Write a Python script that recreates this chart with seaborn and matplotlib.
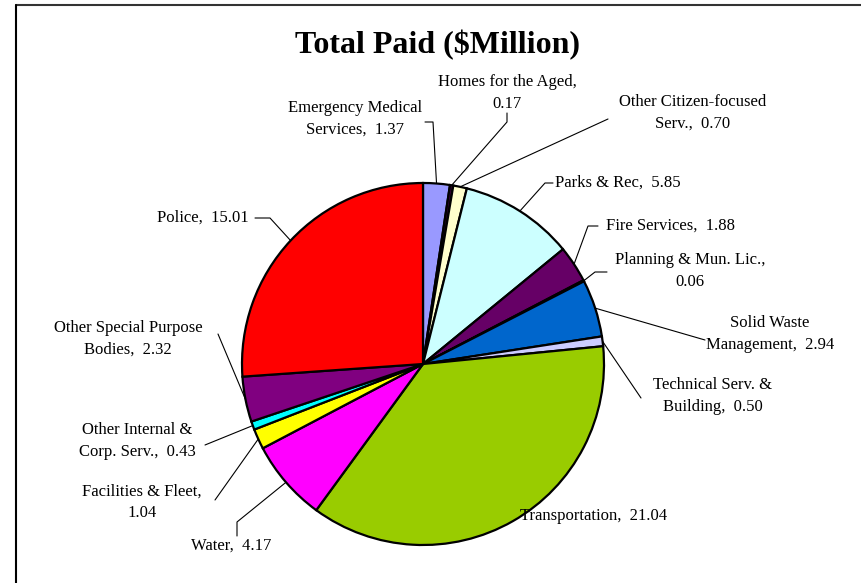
import numpy as np
import matplotlib
matplotlib.use("Agg")
import matplotlib.pyplot as plt
from matplotlib.lines import Line2D
import seaborn as sns

# ---- data ----
names = ["Emergency Medical\nServices", "Homes for the Aged", "Other Citizen-focused\nServ.",
         "Parks & Rec", "Fire Services", "Planning & Mun. Lic.", "Solid Waste\nManagement",
         "Technical Serv. &\nBuilding", "Transportation", "Water", "Facilities & Fleet",
         "Other Internal &\nCorp. Serv.", "Other Special Purpose\nBodies", "Police"]
values = [1.37, 0.17, 0.70, 5.85, 1.88, 0.06, 2.94, 0.50, 21.04, 4.17, 1.04, 0.43, 2.32, 15.01]
value_on_new_line = [False, True, False, False, False, True, False, False, False, False, True,
                     False, False, False]
colors = ["#9999FF", "#330033", "#FFFFCC", "#CCFFFF", "#660066", "#FF8080", "#0066CC",
          "#CCCCFF", "#99CC00", "#FF00FF", "#FFFF00", "#00FFFF", "#800080", "#FF0000"]
title = "Total Paid ($Million)"

# ---- layout (pixel coordinates, y downward) ----
W, H = 862, 583
CX, CY, R = 423, 364, 181
text_pos = [(355, 119), (507, 93), (693, 113), (618, 183), (671, 226), (690, 271),
            (770, 334), (713, 396), (594, 516), (231, 546), (142, 502), (137, 441),
            (128, 339), (203, 218)]
leader_pts = [[(425, 122), (433, 122)], [(507, 113), (507, 122)], [(608, 119)],
              [(553, 183), (545, 183)], [(598, 226), (588, 226)], [(607, 272), (595, 272)],
              [(705, 340)], [(641, 398)], None, [(237, 536), (237, 522)], [(215, 500)],
              [(205, 445)], [(218, 334)], [(255, 218), (270, 218)]]

sns.set_theme(style="white")
plt.rcParams["font.family"] = ["Liberation Serif", "DejaVu Serif"]
plt.rcParams["text.color"] = "black"

fig = plt.figure(figsize=(W / 100, H / 100), dpi=100)
ax = fig.add_axes([0, 0, 1, 1])

def py(y):
    return H - y

wedges, _ = ax.pie(values, colors=colors, startangle=90, counterclock=False,
                   center=(CX, py(CY)), radius=R, frame=True,
                   wedgeprops=dict(edgecolor="black", linewidth=1.6))
ax.set_xlim(0, W)
ax.set_ylim(0, H)
ax.set_aspect("equal")
ax.axis("off")

for i, w in enumerate(wedges):
    sep = ",\n" if value_on_new_line[i] else ",  "
    label = f"{names[i]}{sep}{values[i]:.2f}"
    tx, ty = text_pos[i]
    ax.text(tx, py(ty), label, ha="center", va="center", fontsize=12,
            linespacing=1.45, color="black")
    if leader_pts[i] is not None:
        mid = np.deg2rad((w.theta1 + w.theta2) / 2)
        ex = CX + R * np.cos(mid)
        ey = py(CY) + R * np.sin(mid)
        xs = [p[0] for p in leader_pts[i]] + [ex]
        ys = [py(p[1]) for p in leader_pts[i]] + [ey]
        ax.plot(xs, ys, color="black", linewidth=0.8, zorder=0)

ax.text(438, py(45), title, ha="center", va="center", fontsize=23, fontweight="bold",
        color="black")

# chart frame (top and left edges visible)
fig.add_artist(Line2D([16 / W, 1], [1 - 5 / H, 1 - 5 / H], color="#333333", linewidth=1.5))
fig.add_artist(Line2D([16 / W, 16 / W], [0, 1 - 5 / H], color="black", linewidth=1.5))

fig.savefig("out.png", dpi=100, facecolor="white")
